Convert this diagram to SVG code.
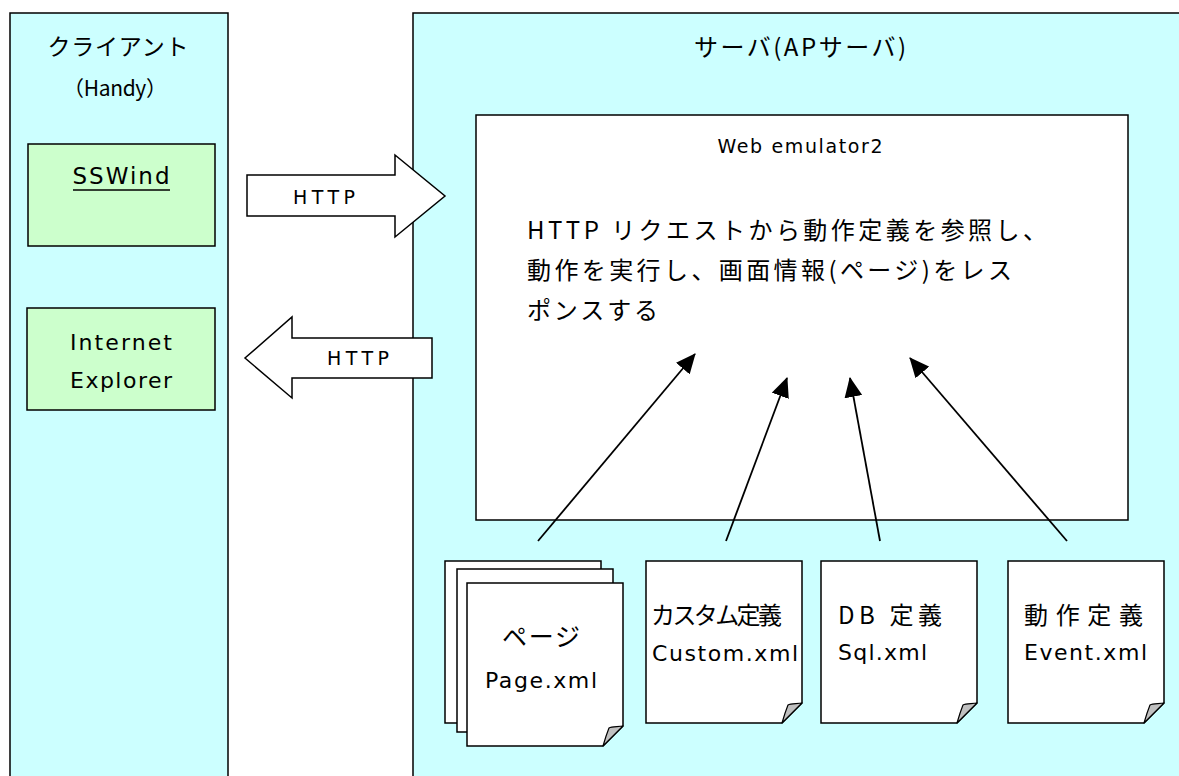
<svg xmlns="http://www.w3.org/2000/svg" width="1179" height="776" viewBox="0 0 1179 776">
  <defs>
    <style>
      .panel { fill: #CCFFFF; stroke: #000; stroke-width: 1.5; }
      .app { fill: #CCFFCC; stroke: #000; stroke-width: 1.5; }
      .box { fill: #FFFFFF; stroke: #000; stroke-width: 1.5; }
      .doc { fill: #FFFFFF; stroke: #000; stroke-width: 1.5; stroke-linejoin: miter; }
      .fold { fill: #C0C0C0; stroke: #000; stroke-width: 1.2; stroke-linejoin: round; }
      .big { fill: #FFFFFF; stroke: #000; stroke-width: 1.5; }
      .t { font-family: "DejaVu Sans", "Noto Sans CJK JP", sans-serif; fill: #000; dominant-baseline: central; }
      .j { font-family: "Noto Sans CJK JP", "DejaVu Sans", sans-serif; fill: #000; dominant-baseline: central; }
      .link { stroke: #000; stroke-width: 1.8; fill: none; marker-end: url(#head); }
    </style>
    <marker id="head" viewBox="0 0 20 18" refX="19" refY="9" markerWidth="20" markerHeight="18" markerUnits="userSpaceOnUse" orient="auto">
      <path d="M0,0 L20,9 L0,18 Z" fill="#000"/>
    </marker>
  </defs>

  <!-- client side column -->
  <g id="client">
    <rect class="panel" x="10" y="13" width="218" height="790"/>
    <text class="j" x="118" y="45" font-size="23" text-anchor="middle" textLength="141">クライアント</text>
    <text class="j" x="115" y="87" font-size="21" text-anchor="middle" textLength="104">（Handy）</text>
  </g>

  <g id="sswind">
    <rect class="app" x="28" y="144" width="187" height="102"/>
    <text class="t" x="121" y="176" font-size="23" text-anchor="middle" textLength="97">SSWind</text>
    <line x1="73" y1="190" x2="170" y2="190" stroke="#000" stroke-width="1.5"/>
  </g>

  <g id="ie">
    <rect class="app" x="27" y="308" width="188" height="102"/>
    <text class="t" x="121" y="342" font-size="22" text-anchor="middle" textLength="102">Internet</text>
    <text class="t" x="121" y="380" font-size="22" text-anchor="middle" textLength="102">Explorer</text>
  </g>

  <!-- server side column -->
  <g id="server">
    <rect class="panel" x="413" y="13" width="800" height="790"/>
    <text class="j" x="800" y="45" font-size="24" text-anchor="middle" textLength="212">サーバ(APサーバ)</text>
  </g>

  <g id="web-emulator">
    <rect class="box" x="476" y="115" width="652" height="405"/>
    <text class="t" x="800" y="146" font-size="19" text-anchor="middle" textLength="165">Web emulator2</text>
    <text class="j" x="527" y="228" font-size="24" textLength="520">HTTP  リクエストから動作定義を参照し、</text>
    <text class="j" x="527" y="268" font-size="24" textLength="485">動作を実行し、画面情報(ページ)をレス</text>
    <text class="j" x="527" y="308" font-size="24" textLength="131">ポンスする</text>
  </g>

  <!-- request / response block arrows -->
  <g id="http-request">
    <polygon class="big" points="247,175 395,175 395,155 445,196 395,237 395,216 247,216"/>
    <text class="t" x="324" y="197" font-size="19" text-anchor="middle" textLength="62">HTTP</text>
  </g>
  <g id="http-response">
    <polygon class="big" points="432,338 292,338 292,317 245,358 292,398 292,378 432,378"/>
    <text class="t" x="358" y="358" font-size="19" text-anchor="middle" textLength="62">HTTP</text>
  </g>

  <!-- definition files -->
  <g id="page">
    <path class="doc" d="M445,561 H601 V704 L581,723 H445 Z"/>
    <path class="doc" d="M457,569 H613 V713 L593,732 H457 Z"/>
    <path class="doc" d="M467,583 H623 V726 L603,746 H467 Z"/>
    <path class="fold" d="M623,726 C618,727 612,726 609,728 C607,733 605,739 603,746 Z"/>
    <text class="j" x="541" y="635" font-size="25" text-anchor="middle" textLength="78">ページ</text>
    <text class="t" x="541" y="680" font-size="22" text-anchor="middle" textLength="112">Page.xml</text>
  </g>

  <g id="custom">
    <path class="doc" d="M646,561 H802 V703 L782,723 H646 Z"/>
    <path class="fold" d="M802,703 C797,704 791,703 788,705 C786,710 784,716 782,723 Z"/>
    <text class="j" x="651" y="613" font-size="24" textLength="131">カスタム定義</text>
    <text class="t" x="652" y="653" font-size="22" textLength="146">Custom.xml</text>
  </g>

  <g id="db">
    <path class="doc" d="M821,561 H977 V703 L957,723 H821 Z"/>
    <path class="fold" d="M977,703 C972,704 966,703 963,705 C961,710 959,716 957,723 Z"/>
    <text class="j" x="838" y="613" font-size="24" textLength="104">DB 定義</text>
    <text class="t" x="838" y="652" font-size="22" textLength="89">Sql.xml</text>
  </g>

  <g id="event">
    <path class="doc" d="M1008,561 H1164 V703 L1144,723 H1008 Z"/>
    <path class="fold" d="M1164,703 C1159,704 1153,703 1150,705 C1148,710 1146,716 1144,723 Z"/>
    <text class="j" x="1024" y="613" font-size="24" textLength="119">動作定義</text>
    <text class="t" x="1024" y="652" font-size="22" textLength="123">Event.xml</text>
  </g>

  <!-- references from the definition files into the emulator -->
  <g id="connectors">
    <line class="link" x1="538" y1="541" x2="695" y2="354"/>
    <line class="link" x1="726" y1="541" x2="787" y2="378"/>
    <line class="link" x1="880" y1="541" x2="850" y2="378"/>
    <line class="link" x1="1067" y1="541" x2="910" y2="358"/>
  </g>
</svg>
